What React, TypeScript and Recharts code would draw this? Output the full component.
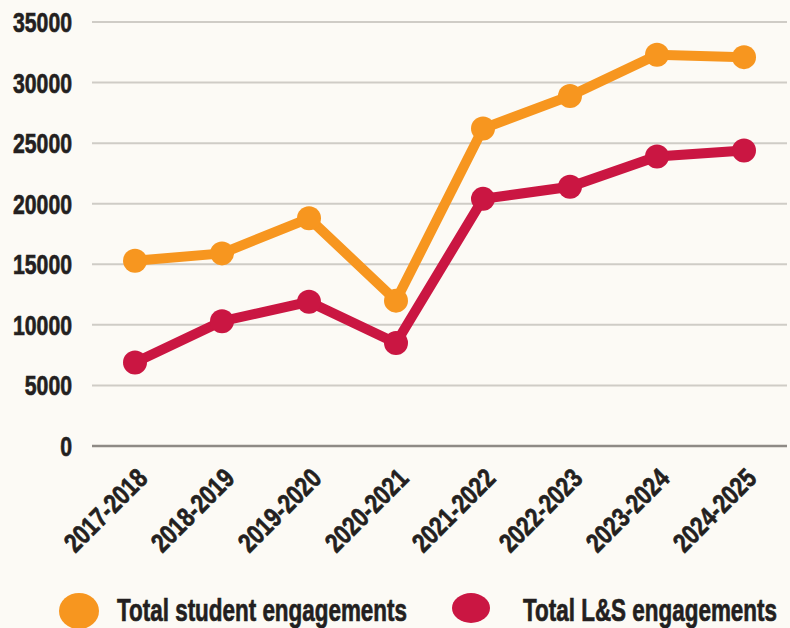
import React from 'react';
import { LineChart, Line, XAxis, YAxis, CartesianGrid, Legend, ReferenceLine } from 'recharts';

const categories = ['2017-2018', '2018-2019', '2019-2020', '2020-2021', '2021-2022', '2022-2023', '2023-2024', '2024-2025'];
const studentEngagements = [15300, 15900, 18800, 12000, 26200, 28900, 32300, 32100];
const lsEngagements = [6900, 10300, 11900, 8500, 20400, 21400, 23900, 24400];
const yTicks = [0, 5000, 10000, 15000, 20000, 25000, 30000, 35000];
const seriesNames = ['Total student engagements', 'Total L&S engagements'];

const data = categories.map((c, i) => ({ year: c, student: studentEngagements[i], ls: lsEngagements[i] }));

const ORANGE = '#F7961F';
const RED = '#CA1642';
const TEXT = '#231F20';
const FONT = '"Liberation Sans", Arial, sans-serif';

const XTick = (props: any) => {
  const { x, y, payload } = props;
  const tx = x + 14;
  const ty = y + 26;
  const s = String(payload.value);
  return (
    <text
      x={tx}
      y={ty}
      textAnchor="end"
      transform={`rotate(-45, ${tx}, ${ty})`}
      fontFamily={FONT}
      fontWeight={700}
      fontSize={27}
      fill={TEXT}
      stroke={TEXT}
      strokeWidth={0.7}
      textLength={s.length * 11.6}
      lengthAdjust="spacingAndGlyphs"
    >
      {s}
    </text>
  );
};

const YTick = (props: any) => {
  const { x, y, payload } = props;
  const s = String(payload.value);
  return (
    <text
      x={x}
      y={y + 10}
      textAnchor="end"
      fontFamily={FONT}
      fontWeight={700}
      fontSize={28.5}
      fill={TEXT}
      stroke={TEXT}
      strokeWidth={0.7}
      textLength={s.length * 11.8}
      lengthAdjust="spacingAndGlyphs"
    >
      {s}
    </text>
  );
};

const LEGEND_TOP = 584;

const LegendContent = () => {
  const items = [
    { name: seriesNames[0], color: ORANGE, cx: 79, cy: 611, rx: 20, ry: 18, textLeft: 117, len: 290 },
    { name: seriesNames[1], color: RED, cx: 471, cy: 608, rx: 19, ry: 15, textLeft: 523, len: 254 },
  ];
  return (
    <svg width={790} height={44} style={{ display: 'block', overflow: 'visible' }}>
      {items.map((it) => (
        <g key={it.name}>
          <ellipse cx={it.cx} cy={it.cy - LEGEND_TOP} rx={it.rx} ry={it.ry} fill={it.color} />
          <text
            x={it.textLeft}
            y={621 - LEGEND_TOP}
            fontFamily={FONT}
            fontWeight={700}
            fontSize={32}
            fill={TEXT}
            stroke={TEXT}
            strokeWidth={0.7}
            textLength={it.len}
            lengthAdjust="spacingAndGlyphs"
          >
            {it.name}
          </text>
        </g>
      ))}
    </svg>
  );
};

export default function App() {
  return (
    <div style={{ position: 'absolute', left: 0, top: 0, width: 790, height: 628, background: '#FCFAF5', overflow: 'hidden' }}>
      <LineChart width={790} height={628} data={data} margin={{ top: 22, right: 3, bottom: 0, left: 0 }}>
        <CartesianGrid vertical={false} stroke="#CFCCC6" strokeWidth={2} />
        <XAxis
          dataKey="year"
          axisLine={false}
          tickLine={false}
          interval={0}
          height={138}
          padding={{ left: 43, right: 43 }}
          tick={<XTick />}
        />
        <YAxis
          domain={[0, 35000]}
          ticks={yTicks}
          width={92}
          axisLine={false}
          tickLine={false}
          tickSize={0}
          tickMargin={20}
          tick={<YTick />}
        />
        <ReferenceLine y={0} stroke="#8E8A85" strokeWidth={2.5} />
        <Line
          type="linear"
          dataKey="student"
          name={seriesNames[0]}
          stroke={ORANGE}
          strokeWidth={10}
          dot={{ r: 12, fill: ORANGE, stroke: ORANGE, strokeWidth: 0 }}
          isAnimationActive={false}
        />
        <Line
          type="linear"
          dataKey="ls"
          name={seriesNames[1]}
          stroke={RED}
          strokeWidth={10}
          dot={{ r: 12, fill: RED, stroke: RED, strokeWidth: 0 }}
          isAnimationActive={false}
        />
        <Legend
          verticalAlign="bottom"
          height={44}
          content={<LegendContent />}
          wrapperStyle={{ left: 0, bottom: 0, width: 790, height: 44 }}
        />
      </LineChart>
    </div>
  );
}
